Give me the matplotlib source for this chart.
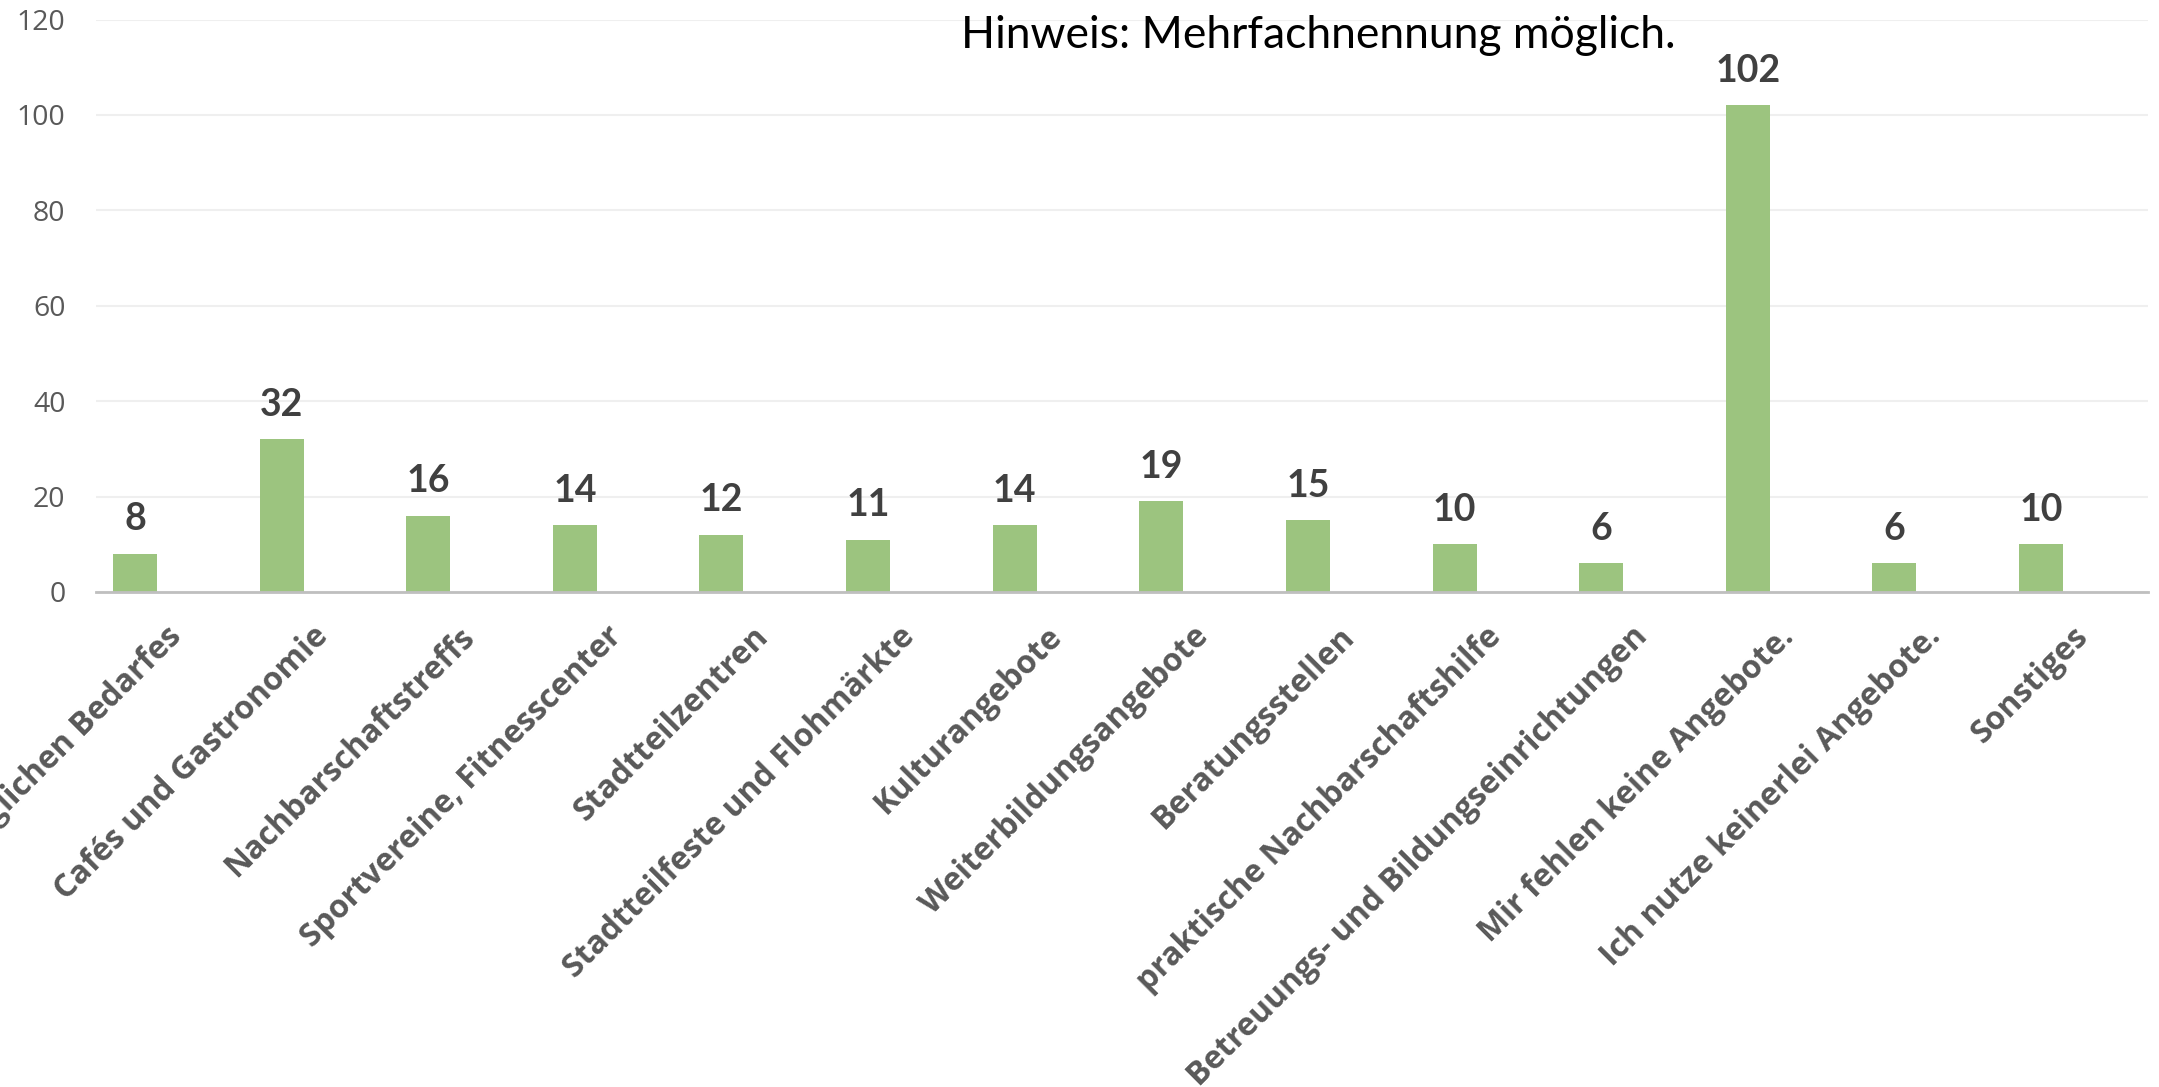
import matplotlib
matplotlib.use("Agg")
import matplotlib.pyplot as plt
from matplotlib.transforms import ScaledTranslation

categories = [
    "Geschäfte des täglichen Bedarfes",
    "Cafés und Gastronomie",
    "Nachbarschaftstreffs",
    "Sportvereine, Fitnesscenter",
    "Stadtteilzentren",
    "Stadtteilfeste und Flohmärkte",
    "Kulturangebote",
    "Weiterbildungsangebote",
    "Beratungsstellen",
    "praktische Nachbarschaftshilfe",
    "Betreuungs- und Bildungseinrichtungen",
    "Mir fehlen keine Angebote.",
    "Ich nutze keinerlei Angebote.",
    "Sonstiges",
]
values = [8, 32, 16, 14, 12, 11, 14, 19, 15, 10, 6, 102, 6, 10]
yticks = [0, 20, 40, 60, 80, 100, 120]
note = "Hinweis: Mehrfachnennung möglich."

W, H = 2159, 1087
fig = plt.figure(figsize=(W / 100, H / 100), dpi=100)
ax = fig.add_axes([96 / W, 1 - 592 / H, (2148 - 96) / W, (592 - 19.5) / H])

x = list(range(len(categories)))
ax.bar(x, values, width=0.30, color="#9CC47F", zorder=2)

ax.set_xlim(-0.266, 13.73)
ax.set_ylim(0, 120)
ax.set_yticks(yticks)
ax.set_yticklabels([str(t) for t in yticks], fontfamily="Open Sans",
                   fontsize=20.5, color="#595959")
ax.tick_params(axis="y", length=0, pad=22)
ax.yaxis.grid(True, color="#EFEFEF", linewidth=1.5, zorder=0)
ax.set_axisbelow(True)
for s in ["top", "right", "left"]:
    ax.spines[s].set_visible(False)
ax.spines["bottom"].set_color("#BFBFBF")
ax.spines["bottom"].set_linewidth(2)
ax.spines["bottom"].set_zorder(3)

ax.set_xticks(x)
ax.set_xticklabels(categories, rotation=45, ha="right", va="center",
                   rotation_mode="anchor", fontfamily="Open Sans",
                   fontweight="bold", fontsize=23, color="#595959")
ax.tick_params(axis="x", length=0, pad=0)
off = ScaledTranslation(42 / 100, -40 / 100, fig.dpi_scale_trans)
for lab in ax.get_xticklabels():
    lab.set_transform(lab.get_transform() + off)

for xi, v in zip(x, values):
    ax.annotate(str(v), (xi, v), xytext=(0, 17), textcoords="offset points",
                ha="center", va="baseline", fontfamily="Lato",
                fontweight="bold", fontsize=27, color="#404040")

fig.text(961 / W, 1 - 48 / H, note, fontfamily="Lato", fontsize=32,
         color="#000000", ha="left", va="baseline")

fig.savefig("out.png", dpi=100)
